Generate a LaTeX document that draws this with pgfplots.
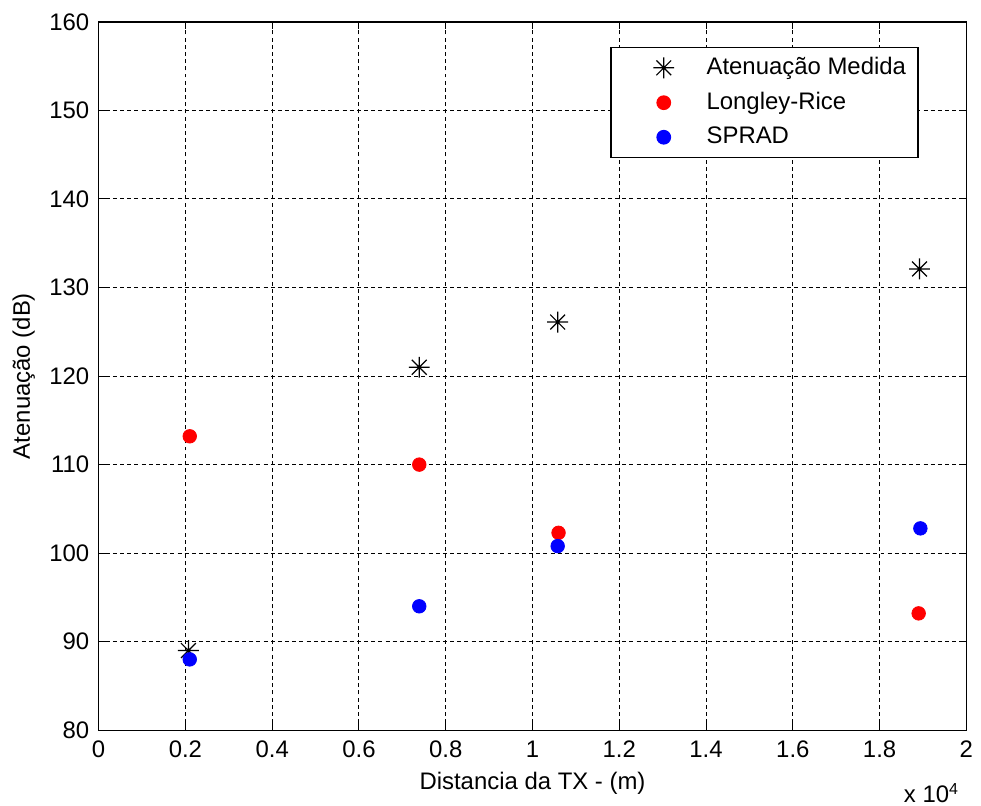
\documentclass[border=0pt]{standalone}
\usepackage{fontspec}
\setmainfont{Liberation Sans}
\usepackage{pgfplots}
\pgfplotsset{compat=1.18}
\pgfdeclareplotmark{ast8}{%
 \pgfpathmoveto{\pgfqpoint{0pt}{\pgfplotmarksize}}\pgfpathlineto{\pgfqpoint{0pt}{-\pgfplotmarksize}}%
 \pgfpathmoveto{\pgfqpoint{\pgfplotmarksize}{0pt}}\pgfpathlineto{\pgfqpoint{-\pgfplotmarksize}{0pt}}%
 \pgfpathmoveto{\pgfqpoint{.7071\pgfplotmarksize}{.7071\pgfplotmarksize}}\pgfpathlineto{\pgfqpoint{-.7071\pgfplotmarksize}{-.7071\pgfplotmarksize}}%
 \pgfpathmoveto{\pgfqpoint{-.7071\pgfplotmarksize}{.7071\pgfplotmarksize}}\pgfpathlineto{\pgfqpoint{.7071\pgfplotmarksize}{-.7071\pgfplotmarksize}}%
 \pgfusepathqstroke}
\begin{document}
\fontsize{12}{14}\selectfont
\begin{tikzpicture}
\begin{axis}[
  scale only axis,
  width=435.5pt, height=355.5pt,
  xmin=0, xmax=20000, ymin=80, ymax=160,
  xtick={0,2000,4000,6000,8000,10000,12000,14000,16000,18000,20000},
  xticklabels={0,0.2,0.4,0.6,0.8,1,1.2,1.4,1.6,1.8,2},
  scaled x ticks=false,
  ytick={80,90,...,160},
  /pgf/number format/assume math mode=true,
  tick label style={font=\fontsize{12}{14}\selectfont},
  label style={font=\fontsize{12}{14}\selectfont},
  tick align=inside, tick pos=both,
  major tick length=3.5pt,
  xticklabel style={yshift=-1pt},
  yticklabel style={xshift=-0.5pt},
  grid=major,
  major grid style={black, dash pattern=on 2pt off 1.6pt, line width=0.5pt},
  axis line style={black, line width=0.6pt},
  every tick/.style={black, line width=0.5pt},
  xlabel={Distancia da TX - (m)},
  ylabel={Atenuação (dB)},
  xlabel style={yshift=1pt},
  ylabel style={yshift=-1pt},
  legend style={at={(1,1)}, anchor=north east, xshift=-24pt, yshift=-12.5pt,
    draw=black, line width=0.6pt, font=\fontsize{12}{14}\selectfont,
    inner xsep=4pt, inner ysep=3pt, row sep=3pt},
  legend image code/.code={\path[draw=none, fill=none] (0pt,0pt) -- (42pt,0pt); \draw[#1] plot coordinates {(22.5pt,0pt)};},
  legend cell align=left,
]
\addplot[only marks, mark=ast8, mark size=5.25pt, black, mark options={line width=0.6pt}]
  coordinates {(2070,89.0) (7390,121.0) (10580,126.1) (18920,132.1)};
\addlegendentry{Atenuação Medida}
\addplot[only marks, mark=*, mark size=3.4pt, red, mark options={fill=red, draw=red}]
  coordinates {(2100,113.2) (7390,110.0) (10600,102.3) (18900,93.2)};
\addlegendentry{Longley-Rice}
\addplot[only marks, mark=*, mark size=3.4pt, blue, mark options={fill=blue, draw=blue}]
  coordinates {(2100,88.0) (7390,94.0) (10580,100.8) (18940,102.8)};
\addlegendentry{SPRAD}
\end{axis}
\node[anchor=base east, font=\fontsize{12}{14}\selectfont, inner sep=0pt] at ([xshift=-3.5pt,yshift=-36.5pt]current axis.south east) {x 10\textsuperscript{4}};
\path ([xshift=-49.5pt,yshift=-38pt]current axis.south west) rectangle ([xshift=5.5pt,yshift=11pt]current axis.north east);
\end{tikzpicture}
\end{document}
